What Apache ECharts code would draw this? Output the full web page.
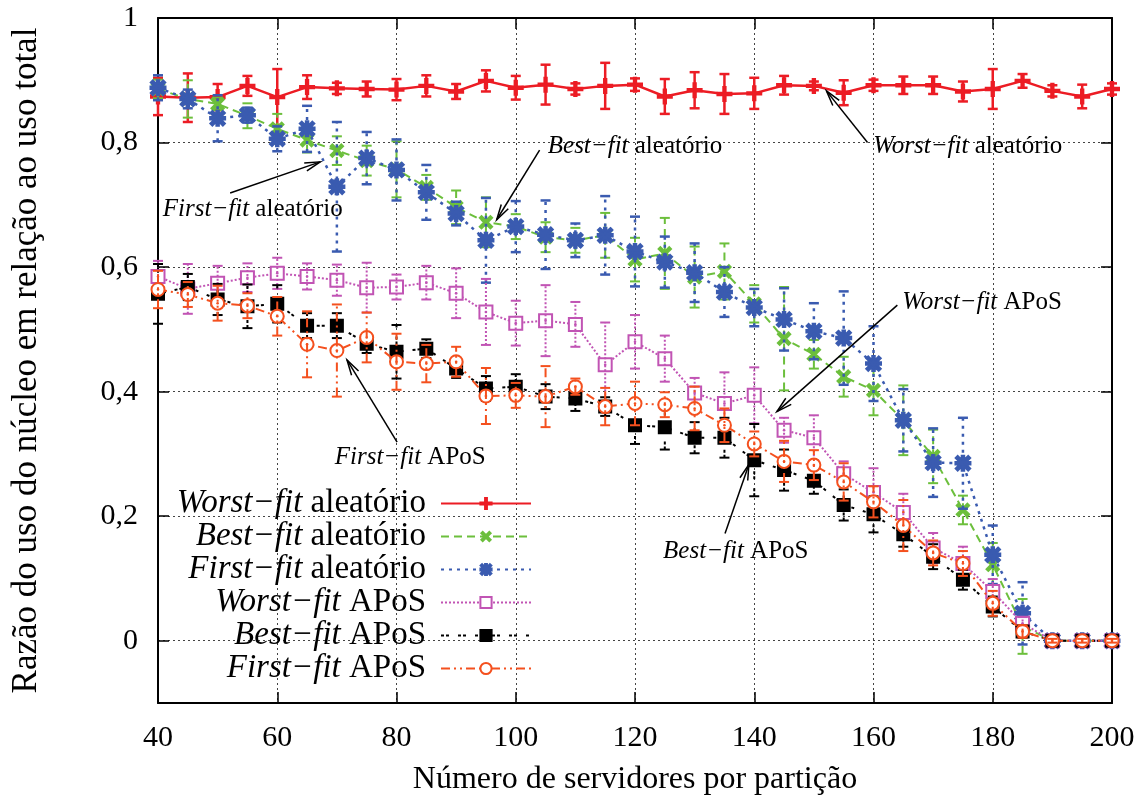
<!DOCTYPE html>
<html><head><meta charset="utf-8">
<script src="https://cdn.jsdelivr.net/npm/echarts@6/dist/echarts.min.js"></script>
<style>html,body{margin:0;padding:0;background:#fff}#c{width:1146px;height:805px}</style>
</head><body><div id="c"></div>
<script>
// ---------------- data ----------------
const servers = [40,45,50,55,60,65,70,75,80,85,90,95,100,105,110,115,120,125,130,135,140,145,150,155,160,165,170,175,180,185,190,195,200];

const worstAleatorio    = [0.874,0.872,0.873,0.891,0.873,0.889,0.887,0.886,0.885,0.891,0.882,0.899,0.888,0.893,0.886,0.891,0.893,0.874,0.884,0.878,0.879,0.892,0.891,0.880,0.892,0.892,0.892,0.882,0.886,0.899,0.883,0.874,0.886];
const worstAleatorioErr = [0.030,0.039,0.021,0.016,0.045,0.019,0.009,0.012,0.017,0.017,0.012,0.017,0.019,0.032,0.009,0.037,0.010,0.028,0.029,0.032,0.025,0.015,0.007,0.020,0.009,0.014,0.014,0.016,0.032,0.011,0.009,0.019,0.009];

const bestAleatorio     = [0.886,0.870,0.862,0.843,0.822,0.804,0.787,0.771,0.757,0.728,0.696,0.672,0.665,0.648,0.643,0.651,0.612,0.622,0.584,0.593,0.541,0.485,0.460,0.424,0.402,0.354,0.296,0.210,0.122,0.023,0,0,0];
const bestAleatorioErr  = [0.015,0.030,0.010,0.020,0.024,0.020,0.023,0.024,0.045,0.020,0.027,0.040,0.020,0.024,0.020,0.036,0.035,0.057,0.049,0.045,0.030,0.083,0.023,0.032,0.040,0.056,0.043,0.023,0.035,0.044,0.003,0.003,0.003];

const firstAleatorio    = [0.888,0.870,0.839,0.844,0.806,0.822,0.729,0.775,0.756,0.720,0.686,0.643,0.665,0.652,0.643,0.651,0.625,0.608,0.591,0.560,0.535,0.516,0.497,0.486,0.445,0.354,0.286,0.285,0.138,0.044,0,0,0];
const firstAleatorioErr = [0.020,0.015,0.037,0.012,0.020,0.037,0.104,0.042,0.049,0.044,0.019,0.068,0.041,0.055,0.027,0.063,0.056,0.041,0.047,0.040,0.030,0.050,0.045,0.075,0.060,0.050,0.055,0.073,0.047,0.050,0.003,0.003,0.003];

const worstApos         = [0.585,0.565,0.574,0.583,0.590,0.585,0.579,0.567,0.568,0.575,0.558,0.528,0.510,0.514,0.508,0.443,0.480,0.453,0.398,0.381,0.394,0.338,0.326,0.268,0.238,0.206,0.149,0.124,0.079,0.028,0,0,0];
const worstAposErr      = [0.025,0.040,0.028,0.023,0.025,0.021,0.025,0.040,0.020,0.027,0.040,0.053,0.036,0.057,0.036,0.068,0.043,0.037,0.024,0.050,0.045,0.020,0.036,0.020,0.039,0.030,0.024,0.027,0.020,0.010,0.003,0.003,0.003];

const bestApos          = [0.557,0.568,0.548,0.537,0.541,0.506,0.506,0.477,0.464,0.469,0.437,0.405,0.408,0.392,0.389,0.376,0.346,0.343,0.326,0.326,0.290,0.274,0.257,0.218,0.203,0.171,0.135,0.098,0.055,0.015,0,0,0];
const bestAposErr       = [0.048,0.021,0.025,0.035,0.030,0.020,0.020,0.015,0.043,0.015,0.015,0.020,0.020,0.020,0.020,0.015,0.030,0.036,0.025,0.032,0.058,0.033,0.021,0.025,0.029,0.020,0.020,0.016,0.016,0.010,0.003,0.003,0.003];

const firstApos         = [0.564,0.556,0.542,0.538,0.521,0.476,0.466,0.487,0.448,0.445,0.448,0.393,0.394,0.392,0.408,0.376,0.381,0.379,0.373,0.346,0.316,0.288,0.282,0.255,0.223,0.185,0.141,0.124,0.060,0.015,0,0,0];
const firstAposErr      = [0.030,0.020,0.028,0.020,0.031,0.053,0.074,0.040,0.045,0.030,0.024,0.045,0.020,0.049,0.013,0.030,0.035,0.020,0.035,0.027,0.020,0.033,0.024,0.030,0.025,0.041,0.020,0.020,0.020,0.010,0.003,0.003,0.003];

const seriesNames = ['Worst−fit aleatório','Best−fit aleatório','First−fit aleatório','Worst−fit APoS','Best−fit APoS','First−fit APoS'];
const xTicks = [40,60,80,100,120,140,160,180,200];
const yTicks = [0,0.2,0.4,0.6,0.8,1];
const xTitle = 'Número de servidores por partição';
const yTitle = 'Razão do uso do núcleo em relação ao uso total';

// annotations: label, label anchor, arrow start, arrow end (data coords)
const annotations = [
  {label:'First−fit aleatório', at:[55.9,0.692], from:[52.1,0.719], to:[67.2,0.769]},
  {label:'Best−fit aleatório',  at:[120.0,0.793], from:[104.0,0.788], to:[96.8,0.676]},
  {label:'Worst−fit aleatório', at:[175.8,0.793], from:[159.0,0.800], to:[152.1,0.883]},
  {label:'Worst−fit APoS',      at:[178.2,0.543], from:[164.0,0.539], to:[143.8,0.368]},
  {label:'First−fit APoS',      at:[82.3,0.295],  from:[80.1,0.319],  to:[71.7,0.451]},
  {label:'Best−fit APoS',       at:[136.9,0.144], from:[135.1,0.172], to:[139.1,0.283]}
];

// ---------------- styles ----------------
const FONT = '"Liberation Serif","Times New Roman",serif';
const plusPath = 'path://M-1,-6L1,-6L1,-1L6,-1L6,1L1,1L1,6L-1,6L-1,1L-6,1L-6,-1L-1,-1Z';
const starPath = 'path://M-1,-6L1,-6L1,6L-1,6ZM-6,-1L6,-1L6,1L-6,1ZM-4.2,-5.8L5.8,4.2L4.2,5.8L-5.8,-4.2ZM4.2,-5.8L5.8,-4.2L-4.2,5.8L-5.8,4.2Z';

const defs = [
  {vals:worstAleatorio, err:worstAleatorioErr, color:'#ec1c24', dash:null,          width:2.5, symbol:plusPath,     size:14, rotate:0,  dot:false},
  {vals:bestAleatorio,  err:bestAleatorioErr,  color:'#6cbf3c', dash:[8,5],         width:2,   symbol:plusPath,     size:15, rotate:45, dot:false},
  {vals:firstAleatorio, err:firstAleatorioErr, color:'#3a5bb0', dash:[3,5],         width:2.5, symbol:starPath,     size:15, rotate:0,  dot:false},
  {vals:worstApos,      err:worstAposErr,      color:'#c154b4', dash:[2,2],         width:2,   symbol:'emptyRect',  size:13, rotate:0,  dot:true},
  {vals:bestApos,       err:bestAposErr,       color:'#000000', dash:[3,2,3,9],     width:2,   symbol:'rect',       size:12, rotate:0,  dot:false},
  {vals:firstApos,      err:firstAposErr,      color:'#f4501e', dash:[9,4,2,4,2,4], width:2,   symbol:'emptyCircle',size:13, rotate:0,  dot:true}
];

function richLabel(n){ const k = n.indexOf(' '); return '{i|' + n.slice(0,k) + '}' + n.slice(k); }

const series = [];
defs.forEach((d, si) => {
  series.push({
    type:'line', name: seriesNames[si], xAxisIndex:0, yAxisIndex:0, z: 3 + 2*si,
    data: servers.map((x,i) => [x, d.vals[i]]),
    symbol: d.symbol, symbolSize: d.size, symbolRotate: d.rotate, showSymbol:true, clip:false,
    lineStyle:{color:d.color, width:d.width, type: d.dash ? d.dash : 'solid'},
    itemStyle:{color:d.color, borderColor:d.color, borderWidth:2},
    emphasis:{disabled:true}
  });
  series.push({
    type:'custom', name: seriesNames[si] + ' (erro)', xAxisIndex:0, yAxisIndex:0, clip:false, silent:true, z: 4 + 2*si,
    data: servers.map((x,i) => [x, d.vals[i] - d.err[i], d.vals[i] + d.err[i], d.vals[i]]),
    encode:{x:0, y:[1,2]},
    renderItem: (params, api) => {
      const lo = api.coord([api.value(0), api.value(1)]);
      const hi = api.coord([api.value(0), api.value(2)]);
      const mid = api.coord([api.value(0), api.value(3)]);
      const w = 5;
      const st = {stroke:d.color, lineWidth:d.width, lineDash:d.dash, fill:null};
      const ch = [
        {type:'line', shape:{x1:lo[0],y1:lo[1],x2:hi[0],y2:hi[1]}, style:st},
        {type:'line', shape:{x1:lo[0]-w,y1:lo[1],x2:lo[0]+w,y2:lo[1]}, style:{stroke:d.color,lineWidth:d.width}},
        {type:'line', shape:{x1:hi[0]-w,y1:hi[1],x2:hi[0]+w,y2:hi[1]}, style:{stroke:d.color,lineWidth:d.width}}
      ];
      if (d.dot) ch.push({type:'circle', shape:{cx:mid[0], cy:mid[1], r:1.3}, style:{fill:d.color}});
      return {type:'group', children:ch};
    }
  });
});

series.push({
  type:'custom', name:'anotações', xAxisIndex:0, yAxisIndex:0, clip:false, silent:true, z:20,
  data: annotations.map(a => [a.to[0], a.to[1]]),
  renderItem: (params, api) => {
    const a = annotations[params.dataIndex];
    const p0 = api.coord(a.from), p1 = api.coord(a.to), t = api.coord(a.at);
    const ang = Math.atan2(p1[1]-p0[1], p1[0]-p0[0]);
    const L = 16, s = 0.26;
    const h1 = [p1[0] - L*Math.cos(ang - s), p1[1] - L*Math.sin(ang - s)];
    const h2 = [p1[0] - L*Math.cos(ang + s), p1[1] - L*Math.sin(ang + s)];
    return {type:'group', children:[
      {type:'line', shape:{x1:p0[0],y1:p0[1],x2:p1[0],y2:p1[1]}, style:{stroke:'#000', lineWidth:1.5}},
      {type:'polyline', shape:{points:[h1,p1,h2]}, style:{stroke:'#000', lineWidth:1.5, fill:null}},
      {type:'text', x:t[0], y:t[1], style:{text: richLabel(a.label), fill:'#000', font:'25px ' + FONT, align:'center', verticalAlign:'middle',
        rich:{i:{fontStyle:'italic', fontSize:25, fontFamily:FONT, fill:'#000'}}}}
    ]};
  }
});

const legends = seriesNames.map((n, i) => ({
  data:[n], orient:'vertical', right:614, top:487 + i*33, align:'right', padding:0,
  itemWidth:90, itemHeight:14, selectedMode:false,
  formatter: richLabel,
  textStyle:{fontFamily:FONT, fontSize:33, color:'#000', padding:[0,10,0,0],
    rich:{i:{fontStyle:'italic', fontFamily:FONT, fontSize:33, color:'#000'}}}
}));

const axisLineStyle = {color:'#000', width:2};
const tickStyle = {color:'#000', width:1.5};

const option = {
  animation:false,
  backgroundColor:'#fff',
  grid:{left:158, right:34, top:18, bottom:102, outerBoundsMode:'none', containLabel:false},
  legend: legends,
  xAxis:[
    {type:'value', min:40, max:200, interval:20, position:'bottom',
     axisLine:{show:true, onZero:false, lineStyle:axisLineStyle},
     axisTick:{show:true, inside:true, length:11, lineStyle:tickStyle},
     axisLabel:{fontFamily:FONT, fontSize:30, color:'#000', margin:20, customValues:xTicks},
     splitLine:{show:true, lineStyle:{color:'#444', width:1, type:[2,3]}},
     name:xTitle, nameLocation:'middle', nameGap:61,
     nameTextStyle:{fontFamily:FONT, fontSize:32, color:'#000'}},
    {type:'value', min:40, max:200, interval:20, position:'top',
     axisLine:{show:true, onZero:false, lineStyle:axisLineStyle},
     axisTick:{show:true, inside:true, length:11, lineStyle:tickStyle},
     axisLabel:{show:false}, splitLine:{show:false}}
  ],
  yAxis:[
    {type:'value', min:-0.1, max:1, position:'left',
     axisLine:{show:true, onZero:false, lineStyle:axisLineStyle},
     axisTick:{show:true, inside:true, length:11, customValues:yTicks, lineStyle:tickStyle},
     axisLabel:{customValues:yTicks, fontFamily:FONT, fontSize:30, color:'#000', margin:20,
       formatter: v => String(Math.round(v*10)/10).replace('.', ',')},
     splitLine:{show:true, lineStyle:{color:'#444', width:1, type:[2,3]}},
     name:yTitle, nameLocation:'middle', nameGap:114, nameRotate:90,
     nameTextStyle:{fontFamily:FONT, fontSize:35, color:'#000'}},
    {type:'value', min:-0.1, max:1, position:'right',
     axisLine:{show:true, onZero:false, lineStyle:axisLineStyle},
     axisTick:{show:true, inside:true, length:11, customValues:yTicks, lineStyle:tickStyle},
     axisLabel:{show:false}, splitLine:{show:false}}
  ],
  series: series
};

const chart = echarts.init(document.getElementById('c'), null, {renderer:'canvas'});
chart.setOption(option);
</script>
</body></html>
